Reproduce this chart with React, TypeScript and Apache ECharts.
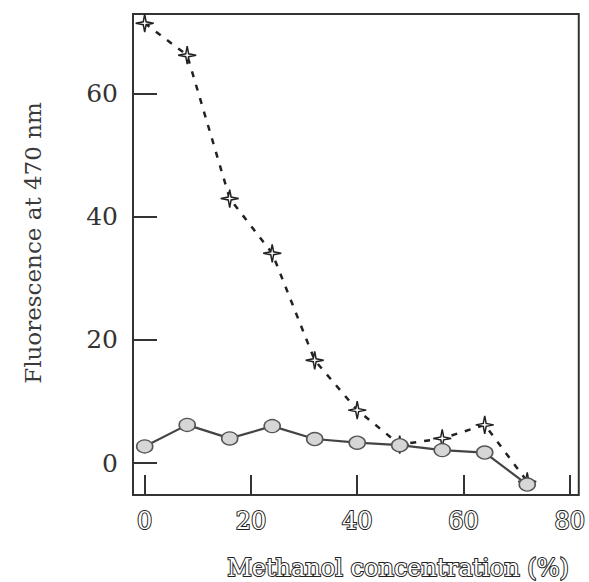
import React, { useEffect, useRef } from "react";
import * as echarts from "echarts";

// Methanol concentration (%) for each measurement
const methanol = [0, 8, 16, 24, 32, 40, 48, 56, 64, 72];
// Fluorescence at 470 nm, dashed (star) series
const starSeries = [71.5, 66.3, 43.0, 34.1, 16.7, 8.6, 3.0, 4.0, 6.2, -3.0];
// Fluorescence at 470 nm, solid (circle) series
const circleSeries = [2.7, 6.2, 4.0, 6.0, 3.9, 3.3, 2.9, 2.1, 1.7, -3.5];
// Tick values
const xTicks = [0, 20, 40, 60, 80];
const yTicks = [0, 20, 40, 60];

const STAR =
  "path://M0,-10 L1.6,-1.6 L10,0 L1.6,1.6 L0,10 L-1.6,1.6 L-10,0 L-1.6,-1.6 Z";

const pairs = (ys: number[]) => methanol.map((x, i) => [x, ys[i]]);

export default function App() {
  const ref = useRef<HTMLDivElement>(null);

  useEffect(() => {
    if (!ref.current) return;
    const chart = echarts.init(ref.current, null, { renderer: "svg" });
    const serif = '"DejaVu Serif", "Liberation Serif", serif';
    chart.setOption({
      animation: false,
      backgroundColor: "#ffffff",
      grid: {
        left: 133,
        top: 14,
        right: 7,
        bottom: 87,
        show: true,
        borderColor: "#333",
        borderWidth: 2,
      },
      xAxis: {
        type: "value",
        min: -2.2,
        max: 81.7,
        splitLine: { show: false },
        axisLine: { show: false, onZero: false },
        axisTick: {
          show: true,
          inside: true,
          length: 20,
          customValues: xTicks,
          lineStyle: { color: "#333", width: 2 },
        },
        axisLabel: {
          customValues: xTicks,
          margin: 14,
          fontFamily: serif,
          fontSize: 24,
          color: "#ffffff",
          textBorderColor: "#222",
          textBorderWidth: 2,
        },
      },
      yAxis: {
        type: "value",
        min: -5.2,
        max: 73,
        splitLine: { show: false },
        axisLine: { show: false, onZero: false },
        axisTick: {
          show: true,
          inside: true,
          length: 24,
          customValues: yTicks,
          lineStyle: { color: "#333", width: 2 },
        },
        axisLabel: {
          customValues: yTicks,
          margin: 15,
          fontFamily: serif,
          fontSize: 25,
          color: "#333",
        },
      },
      graphic: [
        {
          type: "text",
          x: 33,
          y: 243,
          rotation: Math.PI / 2,
          style: {
            text: "Fluorescence at 470 nm",
            font: `23px ${serif}`,
            fill: "#3a3a3a",
            align: "center",
            verticalAlign: "middle",
          },
        },
        {
          type: "text",
          x: 398,
          y: 568,
          style: {
            text: "Methanol concentration (%)",
            font: `24px ${serif}`,
            fill: "#ffffff",
            stroke: "#222",
            lineWidth: 2,
            align: "center",
            verticalAlign: "middle",
          },
        },
      ],
      series: [
        {
          type: "line",
          data: pairs(starSeries),
          z: 2,
          symbol: STAR,
          symbolSize: 18,
          lineStyle: { color: "#222", width: 2.5, type: [6, 8] },
          itemStyle: { color: "#fff", borderColor: "#222", borderWidth: 1.5 },
        },
        {
          type: "line",
          data: pairs(circleSeries),
          z: 3,
          symbol: "circle",
          symbolSize: [16, 13],
          lineStyle: { color: "#444", width: 2.2 },
          itemStyle: { color: "#d6d6d6", borderColor: "#555", borderWidth: 1.5 },
        },
      ],
    });
    return () => chart.dispose();
  }, []);

  return (
    <div
      ref={ref}
      style={{ position: "fixed", left: 0, top: 0, width: 589, height: 582 }}
    />
  );
}
